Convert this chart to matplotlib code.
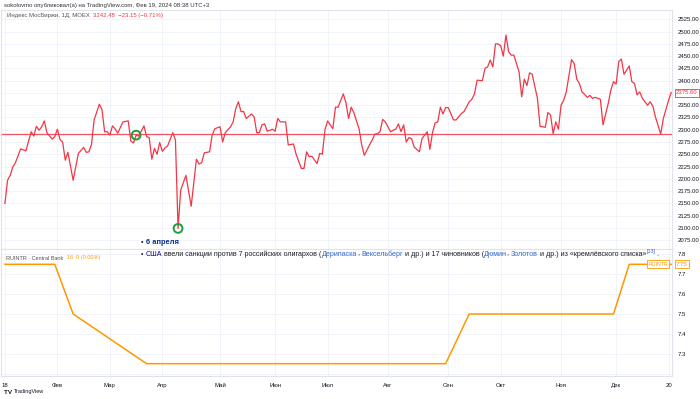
import matplotlib
matplotlib.use("Agg")
import matplotlib.pyplot as plt
from matplotlib.ticker import MultipleLocator, FuncFormatter
from matplotlib.font_manager import findfont, FontProperties
from matplotlib.ft2font import FT2Font

plt.rcParams["font.family"] = ["Liberation Sans", "DejaVu Sans"]

# ---------- data ----------
# MOEX Russia index, 2018; x = trading-session number
moex_session = [0, 1, 2, 3, 4, 6, 8, 10, 11, 12, 13, 14, 15, 16, 18, 19, 20, 21, 22, 23, 24, 26, 28,
                30, 31, 32, 33, 34, 36, 37, 38, 39, 40, 41, 42, 43, 45, 47, 48, 49, 50, 51, 53, 54, 55,
                56, 57, 58, 59, 60, 61, 62, 64, 65, 66, 67, 69, 71, 73, 74, 75, 76, 78, 79, 80, 82, 83,
                84, 86, 87, 88, 89, 90, 91, 92, 94, 95, 96, 97, 98, 99, 100, 102, 103, 104, 105, 107,
                108, 110, 111, 113, 114, 115, 116, 117, 119, 120, 121, 122, 123, 125, 126, 127, 129,
                130, 131, 132, 133, 135, 136, 137, 139, 140, 141, 142, 143, 144, 145, 147, 148, 149,
                150, 151, 152, 153, 154, 155, 156, 158, 159, 161, 162, 163, 164, 165, 166, 167, 168,
                169, 171, 172, 174, 175, 177, 178, 179, 180, 182, 183, 184, 185, 186, 187, 188, 189,
                190, 191, 192, 193, 194, 196, 197, 198, 199, 200, 201, 203, 204, 206, 207, 208, 209,
                210, 211, 212, 213, 214, 216, 217, 218, 219, 220, 221, 222, 223, 224, 225, 227, 228,
                230, 231, 232, 233, 234, 235, 236, 238, 239, 240, 241, 242, 243, 245, 246, 247, 248,
                250, 251, 253, 254]
moex_close = [2150, 2197, 2207, 2224, 2233, 2261, 2257, 2296, 2287, 2307, 2299, 2306, 2318, 2294, 2281,
              2286, 2301, 2280, 2275, 2238, 2254, 2197, 2252, 2264, 2254, 2255, 2270, 2320, 2352, 2341,
              2296, 2296, 2289, 2308, 2302, 2293, 2316, 2318, 2277, 2273, 2289, 2287, 2308, 2286, 2284,
              2240, 2262, 2250, 2274, 2256, 2263, 2267, 2294, 2279, 2099, 2177, 2207, 2144, 2240, 2230,
              2233, 2253, 2255, 2289, 2302, 2306, 2275, 2294, 2306, 2316, 2343, 2357, 2337, 2337, 2323,
              2332, 2326, 2294, 2294, 2310, 2312, 2297, 2301, 2297, 2323, 2316, 2316, 2269, 2271, 2250,
              2221, 2221, 2255, 2245, 2246, 2231, 2252, 2250, 2300, 2318, 2302, 2346, 2346, 2373, 2355,
              2323, 2346, 2335, 2302, 2269, 2248, 2269, 2279, 2291, 2292, 2296, 2321, 2316, 2296, 2299,
              2301, 2312, 2296, 2310, 2275, 2284, 2282, 2265, 2255, 2282, 2296, 2260, 2294, 2314, 2316,
              2346, 2332, 2345, 2345, 2320, 2320, 2333, 2337, 2357, 2362, 2373, 2401, 2400, 2425, 2428,
              2442, 2428, 2475, 2475, 2471, 2450, 2493, 2459, 2452, 2452, 2418, 2367, 2403, 2390, 2416,
              2413, 2364, 2307, 2305, 2335, 2330, 2292, 2316, 2301, 2350, 2360, 2377, 2443, 2435, 2403,
              2394, 2377, 2372, 2366, 2370, 2364, 2366, 2362, 2310, 2354, 2381, 2398, 2393, 2439, 2444,
              2413, 2430, 2398, 2394, 2371, 2377, 2364, 2350, 2357, 2348, 2326, 2291, 2323, 2360, 2376]
level_value = 2291
marked_session = [50, 66]
marked_value = [2289, 2099]
last_price = 2375.60

# Central Bank key rate (RUINTR)
rate_session = [0, 19, 26, 54, 168, 177, 232, 238, 254]
rate_value = [7.75, 7.75, 7.5, 7.25, 7.25, 7.5, 7.5, 7.75, 7.75]
rate_last = 7.75

month_session = [0, 20, 40, 60, 82, 103, 123, 146, 169, 189, 212, 233, 253]
month_labels = ["18", "Фев", "Мар", "Апр", "Май", "Июн", "Июл", "Авг", "Сен", "Окт", "Ноя", "Дек", "20"]

RED = "#f23645"
ORANGE = "#ff9800"
GRID = "#f0f3fa"
BORDER = "#e0e3eb"
TXT = "#131722"

W, H = 700, 399
fig = plt.figure(figsize=(W / 100, H / 100), dpi=100)

def px_box(x0, y0, x1, y1):
    return [x0 / W, 1 - y1 / H, (x1 - x0) / W, (y1 - y0) / H]

ax1 = fig.add_axes(px_box(1, 10, 672, 249))
ax2 = fig.add_axes(px_box(1, 249, 672, 376), sharex=ax1)

for ax in (ax1, ax2):
    ax.yaxis.tick_right()
    ax.tick_params(axis="y", length=0, pad=4, labelsize=4.3, labelcolor=TXT)
    ax.tick_params(axis="x", length=0)
    ax.set_xticks(month_session)
    ax.grid(True, color=GRID, lw=0.7)
    ax.set_axisbelow(True)
    for s in ax.spines.values():
        s.set_color(BORDER)
        s.set_linewidth(0.8)

def price_fmt(v, p):
    # the last-price tag covers its own tick
    if v < 2075 or v > 2525 or abs(v - last_price) < 10:
        return ""
    return f"{v:.2f}"

ax1.set_xlim(-1.5, 254.3)
ax1.set_ylim(2057, 2544)
ax1.yaxis.set_major_locator(MultipleLocator(25))
ax1.yaxis.set_major_formatter(FuncFormatter(price_fmt))
ax1.tick_params(axis="x", labelbottom=False)

ax1.axhline(level_value, color=RED, lw=0.9, alpha=0.85, zorder=2)
ax1.plot(moex_session, moex_close, color=RED, lw=0.9, zorder=3)
ax1.scatter(marked_session, marked_value, s=40, facecolors="none", edgecolors="#1e9e3a",
            linewidths=1.4, zorder=4)

ax2.set_ylim(7.188, 7.827)
ax2.yaxis.set_major_locator(MultipleLocator(0.1))
ax2.yaxis.set_major_formatter(FuncFormatter(lambda v, p: f"{v:.1f}" if 7.25 <= v <= 7.85 else ""))
ax2.plot(rate_session, rate_value, color=ORANGE, lw=1.1, zorder=3)
ax2.set_xticklabels(month_labels)
ax2.tick_params(axis="x", labelsize=4.3, labelcolor=TXT, pad=5)

# price tags on the scale
ax1.annotate(f"{last_price:.2f}", xy=(1.006, last_price), xycoords=("axes fraction", "data"),
             ha="left", va="center", fontsize=4.3, color=RED,
             bbox=dict(boxstyle="square,pad=0.25", fc="white", ec=RED, lw=0.6))
ax2.annotate("RUINTR", xy=(0.994, rate_last), xycoords=("axes fraction", "data"),
             ha="right", va="center", fontsize=3.8, color=ORANGE,
             bbox=dict(boxstyle="square,pad=0.25", fc="white", ec=ORANGE, lw=0.6))
ax2.annotate(f"{rate_last:.2f}", xy=(1.006, rate_last), xycoords=("axes fraction", "data"),
             ha="left", va="center", fontsize=4.3, color=ORANGE,
             bbox=dict(boxstyle="square,pad=0.25", fc="white", ec=ORANGE, lw=0.6))

# ---------- text runs (several colours on one line) ----------
_fonts = {}

def run_width(s, size, weight):
    if weight not in _fonts:
        _fonts[weight] = FT2Font(findfont(FontProperties(family="Liberation Sans", weight=weight)))
    f = _fonts[weight]
    f.set_size(size, 100)
    return sum(f.load_char(ord(ch)).linearHoriAdvance / 65536 for ch in s)

def draw_runs(x, y, runs, size):
    for item in runs:
        s, color = item[0], item[1]
        weight = item[2] if len(item) > 2 else "normal"
        sz = item[3] if len(item) > 3 else size
        dy = item[4] if len(item) > 4 else 0
        fig.text(x / W, 1 - (y - dy) / H, s, fontsize=sz, color=color, fontweight=weight,
                 ha="left", va="center", zorder=10)
        x += run_width(s, sz, weight)

draw_runs(4, 5, [("sokolovmo опубликовал(а) на TradingView.com, Фев 19, 2024 08:38 UTC+3", "#333333")], 4.3)
draw_runs(7, 16, [("Индекс МосБиржи, 1Д, MOEX  ", "#555555"), ("3242.48  −23.15 (−0.71%)", RED)], 4.3)
draw_runs(6, 258, [("RUINTR · Central Bank  ", "#555555"), ("16  0 (0.00%)", ORANGE)], 4.0)

LINK = "#3366cc"
BODY = "#202122"
draw_runs(141, 243, [("• ", BODY), ("6 апреля", "#0b2f8a", "bold")], 5.4)
draw_runs(141, 254, [
    ("• ", BODY), ("США", "#0b0080"),
    (" ввели санкции против 7 российских олигархов (", BODY),
    ("Дерипаска", LINK), (", ", BODY), ("Вексельберг", LINK),
    (" и др.) и 17 чиновников (", BODY), ("Дюмин", LINK), (", ", BODY), ("Золотов", LINK),
    (" и др.) из «кремлёвского списка»", BODY), ("[13]", LINK, "normal", 3.9, 3), (".", BODY),
], 5.1)

draw_runs(4, 392, [("TV ", TXT, "bold", 4.5), ("TradingView", TXT)], 4.0)

fig.savefig("out.png", dpi=100)
